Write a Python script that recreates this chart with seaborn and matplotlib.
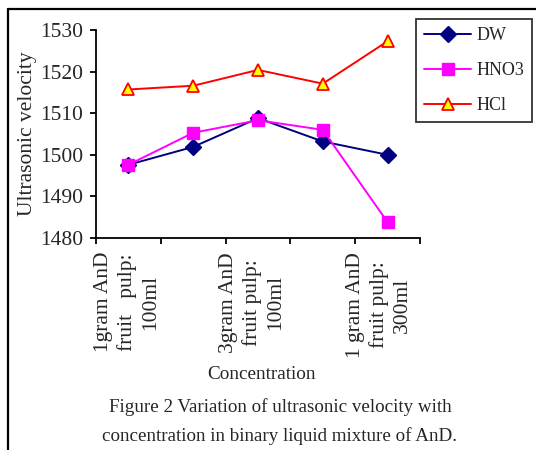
import matplotlib
matplotlib.use("Agg")
import matplotlib.pyplot as plt
from matplotlib.lines import Line2D
import seaborn as sns
import pandas as pd

# Concentration steps (only every other one carries a printed label)
positions = [0, 1, 2, 3, 4]
tick_labels = ["1gram AnD\nfruit   pulp:\n100ml", "",
               "3gram AnD\nfruit pulp:\n100ml", "",
               "1 gram AnD\nfruit pulp:\n300ml"]

dw = [1497.6, 1501.9, 1508.8, 1503.2, 1500.0]
hno3 = [1497.6, 1505.3, 1508.3, 1506.0, 1483.8]
hcl = [1515.7, 1516.6, 1520.4, 1517.1, 1527.3]

series_names = ["DW", "HNO3", "HCl"]

df = pd.DataFrame({
    "pos": positions * 3,
    "velocity": dw + hno3 + hcl,
    "solvent": [n for n in series_names for _ in positions],
})

sns.set_style("white")
plt.rcParams["font.family"] = ["Liberation Serif", "DejaVu Serif"]

fig = plt.figure(figsize=(5.36, 4.5), dpi=100)
ax = fig.add_axes([96 / 536, 1 - 238 / 450, (420 - 96) / 536, (238 - 30) / 450])

styles = {
    "DW": dict(color="#000080", marker="D", markersize=8.5, mfc="#000080", mec="#000080"),
    "HNO3": dict(color="#FF00FF", marker="s", markersize=8, mfc="#FF00FF", mec="#FF00FF"),
    "HCl": dict(color="#FF0000", marker="^", markersize=9, mfc="#FFFF00", mec="#FF0000", mew=1.3),
}

for name in series_names:
    st = styles[name]
    sns.lineplot(data=df[df["solvent"] == name], x="pos", y="velocity", ax=ax,
                 color=st["color"], linewidth=1.4, label=name, legend=False,
                 marker=st["marker"], markersize=st["markersize"],
                 markerfacecolor=st["mfc"], markeredgecolor=st["mec"],
                 markeredgewidth=st.get("mew", 1.0))

ax.set_xlim(-0.5, 4.5)
ax.set_ylim(1480, 1530)
ax.set_yticks([1480, 1490, 1500, 1510, 1520, 1530])

# Tick marks sit between categories; category names are written under each step
ax.set_xticks([-0.5, 0.5, 1.5, 2.5, 3.5, 4.5])
ax.set_xticklabels([])
ax.tick_params(axis="x", which="major", direction="out", length=4.3, width=1.3, color="black", bottom=True)
ax.tick_params(axis="y", direction="out", length=4.3, width=1.3, color="black", left=True,
               labelsize=15.5, pad=5)

label_shift = [-1, 0, -6, 0, -9]
for pos, text, dx in zip(positions, tick_labels, label_shift):
    if not text:
        continue
    ax.annotate(text, xy=(pos, 0), xycoords=ax.get_xaxis_transform(),
                xytext=(dx, -14), textcoords="offset pixels",
                rotation=90, ha="center", va="top", multialignment="center",
                linespacing=1.28, fontsize=15.5, annotation_clip=False)

for side in ["top", "right"]:
    ax.spines[side].set_visible(False)
for side in ["left", "bottom"]:
    ax.spines[side].set_color("black")
    ax.spines[side].set_linewidth(1.3)

ax.set_ylabel("Ultrasonic velocity", fontsize=15.5)
ax.yaxis.set_label_coords(-(96 - 37) / (420 - 96), 0.5)
ax.set_xlabel("Concentration", fontsize=13.8)
ax.xaxis.set_label_coords((262 - 96) / (420 - 96), -(375 - 238) / (238 - 30))
ax.xaxis.label.set_va("center")

handles, labels = ax.get_legend_handles_labels()
leg = fig.legend(handles, labels, loc="upper left",
                 bbox_to_anchor=(416 / 536, 1 - 19 / 450),
                 frameon=True, fancybox=False, shadow=False,
                 fontsize=13, handlelength=2.6, handletextpad=0.28,
                 labelspacing=1.0, borderpad=0.45, borderaxespad=0)
leg.get_frame().set_edgecolor("black")
leg.get_frame().set_linewidth(1.3)

fig.text(280 / 536, 1 - 407 / 450, "Figure 2 Variation of ultrasonic velocity with",
         ha="center", va="center", fontsize=13.7)
fig.text(280 / 536, 1 - 436 / 450, "concentration in binary liquid mixture of AnD.",
         ha="center", va="center", fontsize=13.7)

# Page frame lines along the left and top edges
fig.add_artist(Line2D([8 / 536, 8 / 536], [0, 1 - 9 / 450], transform=fig.transFigure,
                      color="black", linewidth=1.6))
fig.add_artist(Line2D([8 / 536, 1], [1 - 9 / 450, 1 - 9 / 450], transform=fig.transFigure,
                      color="black", linewidth=1.6))

fig.savefig("out.png", dpi=100)
